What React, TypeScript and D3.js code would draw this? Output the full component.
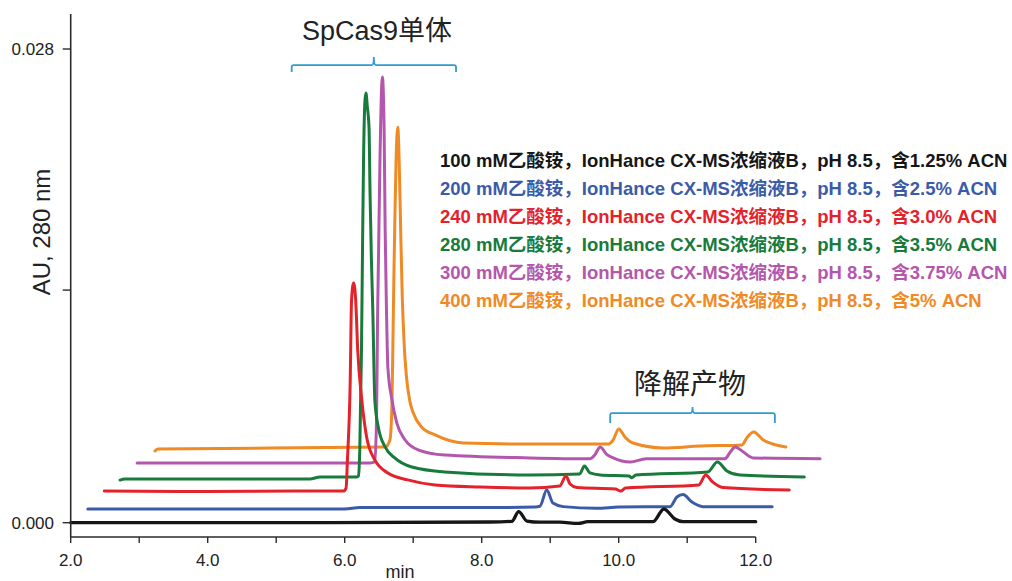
import React from "react";
import * as d3 from "d3";

// ---------- data (time in min, absorbance in mAU) ----------
const blackTrace: [number, number][] = [
  [2.0, 0.01], [5.8, 0.01], [8.12, 0.04], [8.44, 0.08], [8.54, 0.66], [8.66, 0.1], [8.85, 0.03],
  [9.14, 0.03], [9.41, -0.04], [9.55, 0.06], [10.5, 0.06], [10.66, 0.81], [10.82, 0.22],
  [10.94, 0.06], [12.0, 0.06],
];
const blueTrace: [number, number][] = [
  [2.25, 0.81], [6.0, 0.81], [6.22, 0.9], [8.27, 0.9], [8.78, 0.93], [8.85, 0.97], [8.95, 1.93],
  [9.04, 1.16], [9.19, 0.95], [9.68, 0.85], [10.0, 0.93], [10.75, 0.95], [10.85, 1.52],
  [10.94, 1.66], [11.07, 1.22], [11.23, 0.95], [12.24, 0.95],
];
const redTrace: [number, number][] = [
  [2.49, 1.87], [3.89, 1.84], [5.35, 1.87], [5.98, 1.87], [6.02, 2.05], [6.04, 3.71], [6.08, 8.26],
  [6.1, 13.17], [6.13, 14.17], [6.16, 13.17], [6.19, 10.21], [6.25, 7.25], [6.32, 5.07],
  [6.44, 3.71], [6.63, 2.94], [6.92, 2.53], [7.32, 2.23], [7.98, 2.11], [8.7, 2.05], [9.14, 2.17],
  [9.23, 2.76], [9.29, 2.29], [9.39, 2.08], [9.95, 1.99], [10.03, 1.87], [10.1, 2.05],
  [11.17, 2.23], [11.27, 2.82], [11.37, 2.41], [11.52, 2.08], [12.49, 1.93],
];
const greenTrace: [number, number][] = [
  [2.72, 2.52], [2.79, 2.58], [5.49, 2.58], [5.64, 2.7], [6.18, 2.7], [6.2, 2.76], [6.22, 4.3],
  [6.245, 10.21], [6.26, 16.12], [6.275, 21.43], [6.295, 24.9], [6.31, 25.4], [6.33, 24.6],
  [6.355, 23.38], [6.37, 19.48], [6.39, 15.53], [6.41, 12.57], [6.44, 7.25], [6.49, 5.66],
  [6.59, 4.48], [6.73, 3.83], [6.98, 3.29], [7.46, 3.0], [8.7, 2.82], [9.43, 2.88], [9.5, 3.35],
  [9.58, 2.94], [9.73, 2.82], [10.15, 2.76], [10.19, 2.66], [10.25, 2.82], [11.3, 3.0],
  [11.44, 3.59], [11.58, 3.06], [11.77, 2.82], [12.71, 2.7],
];
const purpleTrace: [number, number][] = [
  [2.97, 3.53], [6.37, 3.53], [6.44, 3.59], [6.465, 6.25], [6.48, 12.16], [6.495, 16.12],
  [6.515, 21.43], [6.55, 26.35], [6.575, 23.38], [6.59, 17.48], [6.61, 12.57], [6.63, 9.2],
  [6.69, 7.25], [6.76, 5.9], [6.88, 4.9], [7.07, 4.31], [7.46, 4.0], [8.7, 3.83], [9.58, 3.78],
  [9.65, 4.0], [9.73, 4.48], [9.82, 4.06], [9.92, 3.83], [10.17, 3.59], [10.4, 3.78],
  [11.55, 3.78], [11.63, 4.18], [11.7, 4.48], [11.82, 4.18], [11.96, 3.83], [12.94, 3.78],
];
const orangeTrace: [number, number][] = [
  [3.23, 4.24], [3.27, 4.36], [6.59, 4.47], [6.66, 4.89], [6.69, 7.0], [6.705, 11.0],
  [6.72, 15.0], [6.735, 18.5], [6.75, 21.43], [6.775, 23.38], [6.795, 21.43], [6.82, 16.8],
  [6.84, 13.4], [6.87, 10.4], [6.9, 8.7], [6.95, 7.2], [7.0, 6.5], [7.12, 5.66], [7.32, 5.19],
  [7.73, 4.71], [8.7, 4.65], [9.85, 4.65], [9.92, 4.89], [10.0, 5.54], [10.09, 5.07],
  [10.21, 4.71], [10.65, 4.42], [11.19, 4.53], [11.8, 4.6], [11.87, 5.01], [11.97, 5.36],
  [12.11, 4.89], [12.25, 4.65], [12.44, 4.47],
];

const legendLabels = [
  "100 mM乙酸铵，IonHance CX-MS浓缩液B，pH 8.5，含1.25% ACN",
  "200 mM乙酸铵，IonHance CX-MS浓缩液B，pH 8.5，含2.5% ACN",
  "240 mM乙酸铵，IonHance CX-MS浓缩液B，pH 8.5，含3.0% ACN",
  "280 mM乙酸铵，IonHance CX-MS浓缩液B，pH 8.5，含3.5% ACN",
  "300 mM乙酸铵，IonHance CX-MS浓缩液B，pH 8.5，含3.75% ACN",
  "400 mM乙酸铵，IonHance CX-MS浓缩液B，pH 8.5，含5% ACN",
];
const traces = [blackTrace, blueTrace, redTrace, greenTrace, purpleTrace, orangeTrace];

const xTickValues = [2, 3, 4, 5, 6, 7, 8, 9, 10, 11, 12];
const xLabelValues = [2, 4, 6, 8, 10, 12];
const yTickValues = [0, 13.75, 28];
const yLabelValues = [0, 28];

// annotation spans (min) and level (mAU)
const monomerSpan = [5.226, 7.625];
const monomerLevel = 27.05;
const degradSpan = [9.876, 12.28];
const degradLevel = 6.48;

// ---------- styling ----------
const colors = ["#161616", "#3b5ba9", "#e4222b", "#187a3b", "#b556ad", "#ef8a24"];
const bracketColor = "#2f9bd0";
const FONT = "'Liberation Sans', Arial, 'Noto Sans CJK SC', sans-serif";

export default function App() {
  const W = 1012;
  const H = 581;
  const x = d3.scaleLinear().domain([2, 12]).range([70.7, 755.7]);
  const y = d3.scaleLinear().domain([0, 28]).range([522.7, 49]);
  const line = d3
    .line<[number, number]>()
    .x((d) => x(d[0]))
    .y((d) => y(d[1]))
    .curve(d3.curveMonotoneX);

  const axisX0 = 70.7;
  const axisYBottom = 537;
  const axisYTop = 14;

  const bracket = (span: number[], level: number, hook: number, notch: number) => {
    const x0 = x(span[0]);
    const x1 = x(span[1]);
    const yy = y(level);
    const xm = (x0 + x1) / 2;
    const r = 2;
    return `M${x0},${yy + hook} L${x0},${yy + r} Q${x0},${yy} ${x0 + r},${yy} L${xm - r},${yy} Q${xm},${yy} ${xm},${yy - notch} Q${xm},${yy} ${xm + r},${yy} L${x1 - r},${yy} Q${x1},${yy} ${x1},${yy + r} L${x1},${yy + hook}`;
  };

  const drawOrder = [5, 4, 3, 2, 1, 0];

  return (
    <svg
      width={W}
      height={H}
      style={{ position: "absolute", left: 0, top: 0, background: "#fff" }}
      fontFamily={FONT}
    >
      <rect width={W} height={H} fill="#fff" />
      {/* traces */}
      {drawOrder.map((i) => (
        <path
          key={i}
          d={line(traces[i]) || ""}
          fill="none"
          stroke={colors[i]}
          strokeWidth={i === 0 ? 3.3 : 3}
          strokeLinejoin="round"
          strokeLinecap="round"
        />
      ))}

      {/* y axis */}
      <line x1={axisX0} x2={axisX0} y1={axisYTop} y2={axisYBottom} stroke="#2b2b2b" strokeWidth={1.6} />
      {yTickValues.map((v) => (
        <line key={v} x1={axisX0 - 8} x2={axisX0} y1={y(v)} y2={y(v)} stroke="#2b2b2b" strokeWidth={1.4} />
      ))}
      {yLabelValues.map((v) => (
        <text key={v} x={54} y={y(v) + 6} textAnchor="end" fontSize={17} fill="#222">
          {(v / 1000).toFixed(3)}
        </text>
      ))}
      <text
        transform={`translate(50,232) rotate(-90)`}
        textAnchor="middle"
        fontSize={24}
        fill="#222"
      >
        AU, 280 nm
      </text>

      {/* x axis */}
      <line x1={axisX0} x2={x(12)} y1={axisYBottom} y2={axisYBottom} stroke="#2b2b2b" strokeWidth={1.6} />
      {xTickValues.map((v) => (
        <line key={v} x1={x(v)} x2={x(v)} y1={axisYBottom} y2={axisYBottom + 6} stroke="#2b2b2b" strokeWidth={1.4} />
      ))}
      {xLabelValues.map((v) => (
        <text key={v} x={x(v)} y={566} textAnchor="middle" fontSize={17} fill="#222">
          {v.toFixed(1)}
        </text>
      ))}
      <text x={400} y={578} textAnchor="middle" fontSize={18} fill="#222">
        min
      </text>

      {/* annotations */}
      <path d={bracket(monomerSpan, monomerLevel, 7, 8)} fill="none" stroke={bracketColor} strokeWidth={1.8} />
      <text x={377} y={40} textAnchor="middle" fontSize={27} fill="#222">
        SpCas9单体
      </text>
      <path d={bracket(degradSpan, degradLevel, 10, 6)} fill="none" stroke={bracketColor} strokeWidth={1.8} />
      <text x={690} y={394} textAnchor="middle" fontSize={28} fill="#222">
        降解产物
      </text>

      {/* legend */}
      {legendLabels.map((t, i) => (
        <text key={i} x={440} y={167 + i * 27.9} fontSize={18.5} fontWeight="bold" fill={colors[i]}>
          {t}
        </text>
      ))}
    </svg>
  );
}
